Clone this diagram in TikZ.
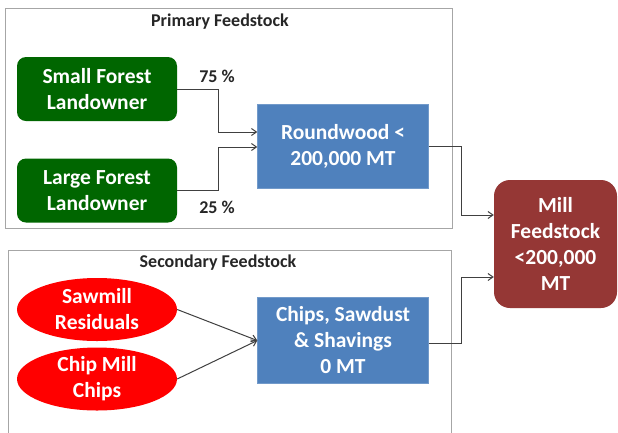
\documentclass[tikz,border=0pt]{standalone}
\usepackage{fontspec}
\setmainfont{Carlito}
\usetikzlibrary{shapes.geometric,arrows.meta}
\definecolor{fgreen}{HTML}{006600}
\definecolor{fblue}{HTML}{4F81BD}
\definecolor{fred}{HTML}{953735}
\definecolor{fellipse}{HTML}{FF0000}
\definecolor{fframe}{HTML}{A6A6A6}
\definecolor{fline}{HTML}{404040}
\tikzset{
  nodetext/.style={text=white, font=\bfseries\fontsize{21.5}{26}\selectfont, align=center, inner sep=0pt},
  greenbox/.style={nodetext, fill=fgreen, rounded corners=9pt, minimum width=160pt, minimum height=64pt},
  bluebox/.style={nodetext, fill=fblue, draw=fblue!80!white, minimum width=171pt, minimum height=84pt},
  millbox/.style={nodetext, fill=fred, rounded corners=16pt, minimum width=123pt, minimum height=128pt},
  redell/.style={nodetext, ellipse, fill=fellipse, minimum width=160pt, minimum height=63pt},
  frame/.style={draw=fframe, line width=0.8pt},
  title/.style={font=\bfseries\fontsize{18}{20}\selectfont, text=black!85},
  pct/.style={font=\bfseries\fontsize{18}{20}\selectfont, text=black!85},
  conn/.style={draw=fline, line width=1pt, -{Straight Barb[length=5pt,width=7pt]}}
}
\begin{document}
\begin{tikzpicture}[x=1pt,y=-1pt]
\useasboundingbox (0,0) rectangle (618,432);
\fill[white] (0,0) rectangle (618,432);
% frames
\draw[frame] (5,8) rectangle (452,228);
\draw[frame] (8,440) -- (8,250) -- (451,250) -- (451,440);
\node[title] (pt) at (220,22) {Primary Feedstock};
\node[title] (st) at (218,263) {Secondary Feedstock};
% nodes
\node[greenbox] (sf) at (97,89) {Small Forest\\Landowner};
\node[greenbox] (lf) at (97,190.5) {Large Forest\\Landowner};
\node[bluebox] (rw) at (343,146.5) {Roundwood <\\200,000 MT};
\node[millbox] (mill) at (555.5,244) {Mill\\Feedstock\\<200,000\\MT};
\node[bluebox, minimum height=86pt] (cs) at (343,340.5) {Chips, Sawdust\\\& Shavings\\0 MT};
\node[redell] (sm) at (97,309.5) {Sawmill\\Residuals};
\node[redell] (cm) at (97,379) {Chip Mill\\Chips};
\node[pct] (p75) at (217,76) {75 \%};
\node[pct] (p25) at (217,207) {25 \%};
% connectors
\draw[conn] (sf.east) -- ++(41,0) |- ([yshift=14.5pt]rw.west);
\draw[conn] (lf.east) -- ++(41,0) |- ([yshift=-0.5pt]rw.west);
\draw[conn] (rw.east) -- ++(33,0) |- ([yshift=29pt]mill.west);
\draw[conn] ([yshift=-2.5pt]cs.east) -- ++(33,0) |- ([yshift=-33pt]mill.west);
\draw[conn] (sm.east) -- (cs.west);
\draw[conn] (cm.east) -- (cs.west);
\end{tikzpicture}
\end{document}
